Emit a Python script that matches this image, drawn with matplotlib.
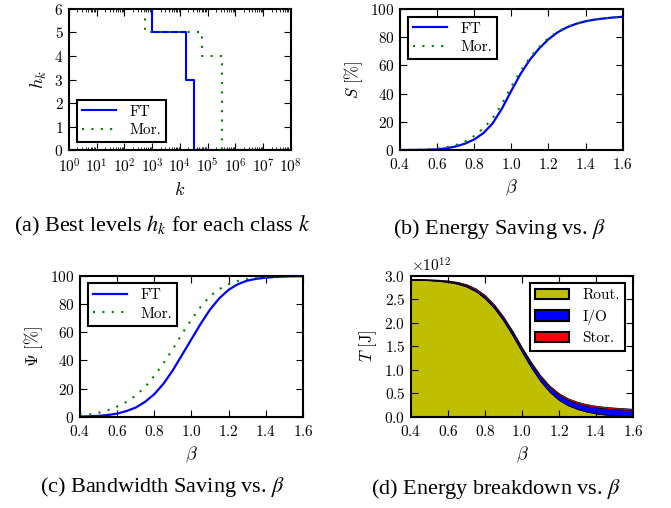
"""Four-panel figure: best levels, energy saving, bandwidth saving, energy breakdown."""

import matplotlib
matplotlib.use("Agg")
import matplotlib.pyplot as plt
from matplotlib.patches import Patch
from matplotlib.ticker import LogLocator, MultipleLocator, NullFormatter

plt.rcParams.update({
    "font.family": "serif",
    "font.serif": ["cmr10", "DejaVu Serif"],
    "mathtext.fontset": "cm",
    "axes.formatter.use_mathtext": True,
    "font.size": 11,
    "axes.linewidth": 1.5,
    "xtick.direction": "in",
    "ytick.direction": "in",
    "xtick.top": True,
    "ytick.right": True,
    "xtick.major.size": 5,
    "ytick.major.size": 5,
    "xtick.minor.size": 2.5,
    "ytick.minor.size": 2.5,
    "xtick.major.pad": 5,
    "ytick.major.pad": 4,
    "legend.fancybox": False,
    "legend.framealpha": 1.0,
    "legend.edgecolor": "black",
    "legend.fontsize": 11,
})

# (a) best levels per class (step vertices)
ft_k = [1e3, 1e3, 1.7e4, 1.7e4, 3.2e4, 3.2e4, 1e8]
ft_h = [6, 5, 5, 3, 3, 0, 0]
mor_k = [5.5e2, 5.5e2, 6e4, 6e4, 3.2e5, 3.2e5, 1e8]
mor_h = [6, 5, 5, 4, 4, 0, 0]

beta = [0.40, 0.45, 0.50, 0.55, 0.60, 0.65, 0.70, 0.75, 0.80, 0.85, 0.90,
        0.95, 1.00, 1.05, 1.10, 1.15, 1.20, 1.25, 1.30, 1.35, 1.40, 1.45,
        1.50, 1.55, 1.60]

# (b) energy saving S [%]
s_ft = [0.0, 0.05, 0.1, 0.2, 0.5, 1.2, 2.5, 4.5, 7.5, 12.0, 19.0, 29.5,
        42.0, 54.0, 64.0, 72.0, 78.5, 83.5, 87.0, 89.5, 91.3, 92.5, 93.3,
        94.0, 94.5]
s_mor = [0.0, 0.1, 0.2, 0.5, 1.0, 2.0, 3.5, 6.0, 10.0, 15.5, 22.5, 33.0,
         45.0, 56.0, 65.5, 73.0, 79.5, 84.0, 87.3, 89.6, 91.3, 92.5, 93.3,
         94.0, 94.5]

# (c) bandwidth saving Psi [%]
psi_ft = [0.1, 0.3, 0.6, 1.2, 2.2, 4.0, 6.5, 10.5, 16.0, 23.5, 33.0, 44.0,
          55.0, 66.0, 76.0, 84.0, 90.0, 94.0, 96.5, 97.8, 98.6, 99.1, 99.4,
          99.6, 99.7]
psi_mor = [0.5, 1.5, 2.8, 4.6, 7.2, 10.5, 15.0, 21.0, 29.0, 38.0, 48.0,
           59.0, 69.0, 78.0, 85.5, 90.5, 94.0, 96.3, 97.6, 98.5, 99.0, 99.3,
           99.5, 99.6, 99.7]

# (d) energy breakdown T [J], units of 1e12
rout = [2.913, 2.910, 2.902, 2.887, 2.866, 2.829, 2.768, 2.666, 2.516,
        2.308, 2.041, 1.722, 1.375, 1.044, 0.754, 0.525, 0.355, 0.240,
        0.163, 0.108, 0.070, 0.044, 0.030, 0.022, 0.016]
io = [0.005, 0.007, 0.009, 0.012, 0.016, 0.021, 0.027, 0.034, 0.042, 0.049,
      0.056, 0.065, 0.072, 0.083, 0.093, 0.102, 0.112, 0.117, 0.122, 0.127,
      0.132, 0.134, 0.133, 0.128, 0.124]
stor = [0.012, 0.013, 0.014, 0.016, 0.018, 0.020, 0.025, 0.030, 0.032,
        0.033, 0.033, 0.033, 0.033, 0.033, 0.033, 0.033, 0.033, 0.033,
        0.033, 0.033, 0.033, 0.032, 0.032, 0.032, 0.030]

DOT = (0, (1, 3.5))
BETA_TICKS = [0.4, 0.6, 0.8, 1.0, 1.2, 1.4, 1.6]

fig = plt.figure(figsize=(6.71, 5.08), dpi=100)
ax_a = fig.add_axes([0.1028, 0.7047, 0.3308, 0.2776])
ax_b = fig.add_axes([0.5961, 0.7047, 0.3318, 0.2776])
ax_c = fig.add_axes([0.1192, 0.1797, 0.3323, 0.2776])
ax_d = fig.add_axes([0.6125, 0.1797, 0.3308, 0.2776])


def add_legend(ax, *args, **kw):
    leg = ax.legend(*args, handlelength=2.2, borderpad=0.35,
                    handletextpad=0.9, **kw)
    leg.get_frame().set_linewidth(1.5)
    return leg


# (a)
ax_a.plot(ft_k, ft_h, color="b", lw=1.5, label="FT")
ax_a.plot(mor_k, mor_h, color="g", lw=1.5, ls=DOT, label="Mor.")
ax_a.set_xscale("log")
ax_a.set_xlim(1, 1e8)
ax_a.set_ylim(0, 6)
ax_a.xaxis.set_major_locator(LogLocator(base=10, numticks=20))
ax_a.xaxis.set_minor_locator(LogLocator(base=10, subs=range(2, 10),
                                        numticks=100))
ax_a.xaxis.set_minor_formatter(NullFormatter())
ax_a.yaxis.set_major_locator(MultipleLocator(1))
ax_a.set_xlabel(r"$k$", fontsize=13)
ax_a.set_ylabel(r"$h_k$", fontsize=13)
add_legend(ax_a, loc="lower left", labelspacing=0.3)

# (b)
ax_b.plot(beta, s_ft, color="b", lw=1.6, label="FT")
ax_b.plot(beta, s_mor, color="g", lw=1.5, ls=DOT, label="Mor.")
ax_b.set_xlim(0.4, 1.6)
ax_b.set_ylim(0, 100)
ax_b.set_xticks(BETA_TICKS)
ax_b.yaxis.set_major_locator(MultipleLocator(20))
ax_b.set_xlabel(r"$\beta$", fontsize=13)
ax_b.set_ylabel(r"$S\ [\%]$", fontsize=12)
add_legend(ax_b, loc="upper left", labelspacing=0.3)

# (c)
ax_c.plot(beta, psi_ft, color="b", lw=1.6, label="FT")
ax_c.plot(beta, psi_mor, color="g", lw=1.5, ls=DOT, label="Mor.")
ax_c.set_xlim(0.4, 1.6)
ax_c.set_ylim(0, 100)
ax_c.set_xticks(BETA_TICKS)
ax_c.yaxis.set_major_locator(MultipleLocator(20))
ax_c.set_xlabel(r"$\beta$", fontsize=13)
ax_c.set_ylabel(r"$\Psi\ [\%]$", fontsize=12)
add_legend(ax_c, loc="upper left", labelspacing=0.3)

# (d)
b1 = [r * 1e12 for r in rout]
b2 = [(r + i) * 1e12 for r, i in zip(rout, io)]
b3 = [(r + i + s) * 1e12 for r, i, s in zip(rout, io, stor)]
ax_d.fill_between(beta, 0, b1, facecolor="#bfbf00", edgecolor="black", lw=0.5)
ax_d.fill_between(beta, b1, b2, facecolor="b", edgecolor="black", lw=0.5)
ax_d.fill_between(beta, b2, b3, facecolor="r", edgecolor="black", lw=0.5)
ax_d.set_xlim(0.4, 1.6)
ax_d.set_ylim(0, 3e12)
ax_d.set_xticks(BETA_TICKS)
ax_d.set_yticks([i * 0.5e12 for i in range(7)])
ax_d.set_xlabel(r"$\beta$", fontsize=13)
ax_d.set_ylabel(r"$T\ [\mathrm{J}]$", fontsize=12)
handles = [Patch(facecolor=c, edgecolor="black", lw=1.5)
           for c in ("#bfbf00", "b", "r")]
add_legend(ax_d, handles, ["Rout.", "I/O", "Stor."], loc="upper right",
           labelspacing=0.45)

cap = dict(fontsize=16, family="Liberation Serif", math_fontfamily="stix",
           ha="center", va="center")
fig.text(0.2414, 0.555, r"(a) Best levels $h_k$ for each class $k$", **cap)
fig.text(0.745, 0.549, r"(b) Energy Saving vs. $\beta$", **cap)
fig.text(0.243, 0.041, r"(c) Bandwidth Saving vs. $\beta$", **cap)
fig.text(0.739, 0.037, r"(d) Energy breakdown vs. $\beta$", **cap)

fig.savefig("out.png", dpi=100)
